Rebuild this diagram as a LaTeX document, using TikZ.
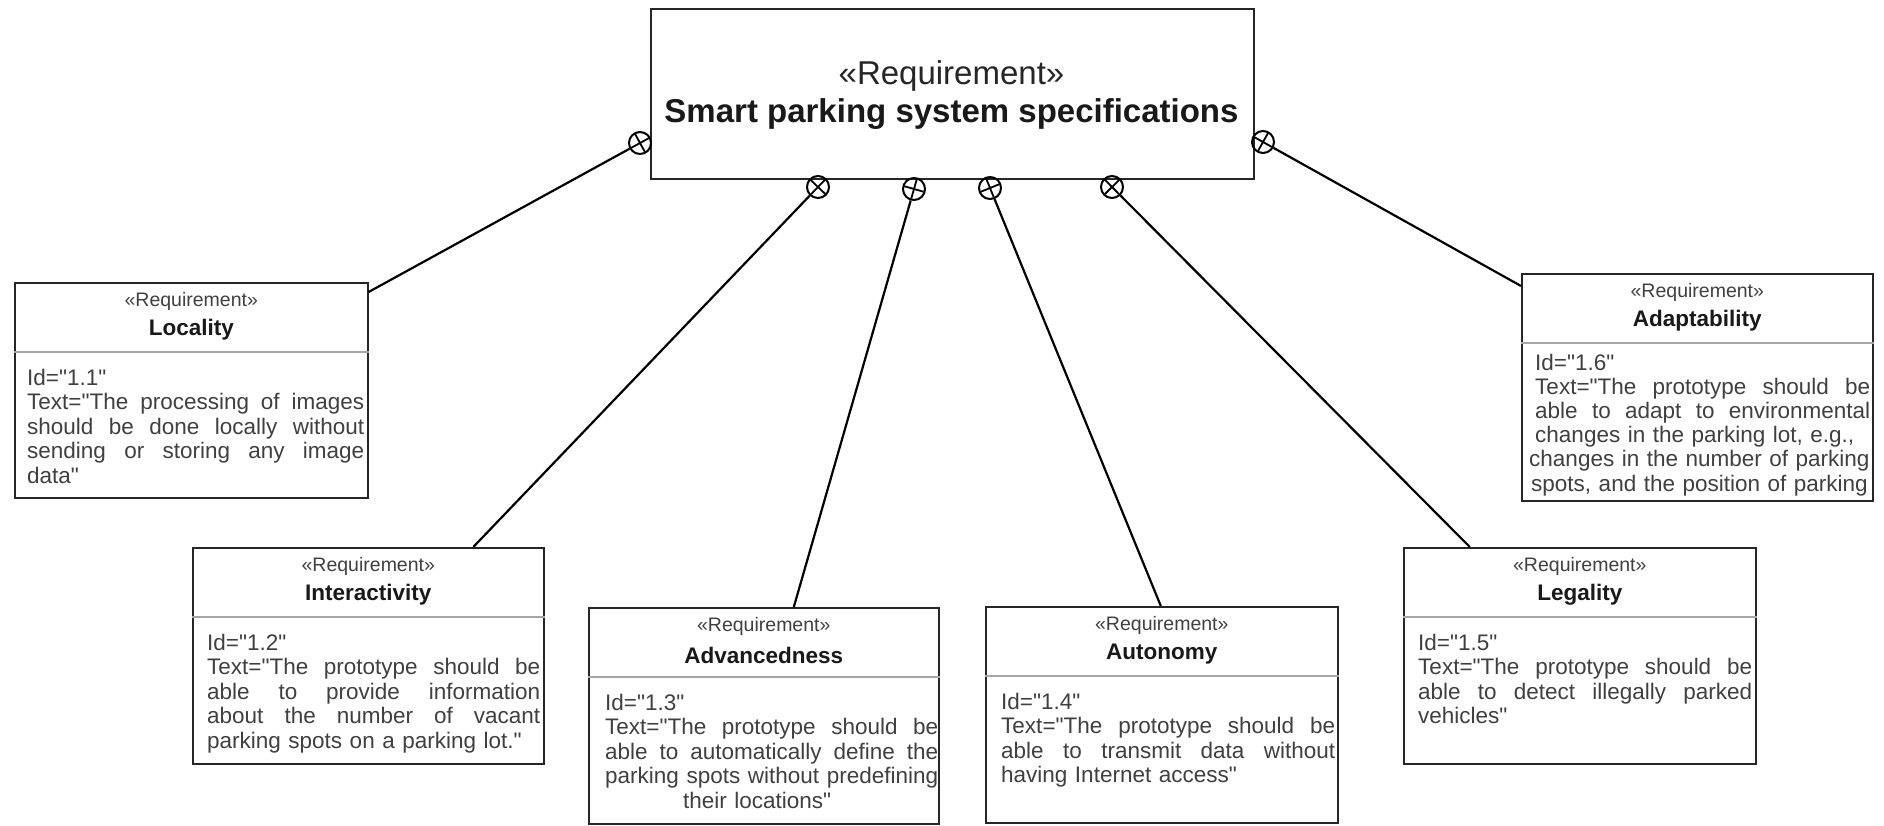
\documentclass[tikz,border=0pt]{standalone}
\usepackage{fontspec}
\setmainfont{Liberation Sans}[Ligatures=TeXOff]
\usetikzlibrary{calc}

\tikzset{
  req/.style={draw=black!85, line width=1.6pt, rectangle, anchor=north west, inner sep=0pt},
  stereo/.style={font=\fontsize{19.5pt}{22pt}\selectfont, text=black!75, inner sep=0pt},
  rname/.style={font=\fontsize{22.5pt}{25pt}\selectfont\bfseries, text=black!90, inner sep=0pt},
  divider/.style={draw=black!35, line width=1.6pt},
  body/.style={font=\fontsize{22.5pt}{24.5pt}\selectfont, text=black!75, inner sep=0pt, anchor=north west, align=left},
  port/.style={circle, draw=black, line width=2pt, minimum size=22pt, inner sep=0pt},
  link/.style={draw=black, line width=2.2pt},
  portx/.style={draw=black, line width=1.8pt},
}

% header of a requirement box: stereotype, name and compartment line
\newcommand\reqhead[2]{%
  \node[stereo] (#1-st) at ([yshift=-19.5pt]#1.north) {«Requirement»};
  \node[rname] (#1-nm) at ([yshift=-48pt]#1.north) {#2};
  \draw[divider] ([yshift=-70pt]#1.north west) -- ([yshift=-70pt]#1.north east);
}
% containment port: circle with a cross aligned to the connector
\newcommand\portcross[2]{%
  \draw[portx] ($(#1)!10pt!(#2)$) -- ($(#1)!-10pt!(#2)$)
               ($(#1)!10pt!90:(#2)$) -- ($(#1)!-10pt!90:(#2)$);
}
% a justified line of the given width
\newcommand\jl[2]{\leavevmode\hbox to #1pt{\spaceskip=0.278em plus 1fil\relax #2}}

\begin{document}
\begin{tikzpicture}[x=1pt, y=-1pt]
  \useasboundingbox (0,0) rectangle (1884,825);
  \fill[white] (0,0) rectangle (1884,825);

  % parent requirement
  \node[req, minimum width=603pt, minimum height=170pt] (main) at (650,8) {};
  \node[font=\fontsize{33pt}{36pt}\selectfont, text=black!85, inner sep=0pt] (main-st) at (951.5,76) {«Requirement»};
  \node[font=\fontsize{33pt}{36pt}\selectfont\bfseries, text=black!90, inner sep=0pt] (main-nm) at (951.5,114) {Smart parking system specifications};

  % child requirements
  \node[req, minimum width=353pt, minimum height=215pt] (loc) at (14,282) {};
  \reqhead{loc}{Locality}
  \node[body, text width=340pt] (loc-bd) at (27,368) {\strut Id="1.1"\\
    \jl{337}{Text="The processing of images}\\
    \jl{337}{should be done locally without}\\
    \jl{337}{sending or storing any image}\\
    data"};

  \node[req, minimum width=351pt, minimum height=216pt] (int) at (192,547) {};
  \reqhead{int}{Interactivity}
  \node[body, text width=335pt] (int-bd) at (207,633) {\strut Id="1.2"\\
    \jl{333}{Text="The prototype should be}\\
    \jl{333}{able to provide information}\\
    \jl{333}{about the number of vacant}\\
    parking spots on a parking lot."};

  \node[req, minimum width=350pt, minimum height=216pt] (adv) at (588,607) {};
  \reqhead{adv}{Advancedness}
  \node[body, text width=335pt] (adv-bd) at (605,693) {\strut Id="1.3"\\
    \jl{333}{Text="The prototype should be}\\
    \jl{333}{able to automatically define the}\\
    \jl{333}{parking spots without predefining}\\
    \hspace*{78pt}their locations"};

  \node[req, minimum width=352pt, minimum height=216pt] (aut) at (985,606) {};
  \reqhead{aut}{Autonomy}
  \node[body, text width=336pt] (aut-bd) at (1001,692) {\strut Id="1.4"\\
    \jl{334}{Text="The prototype should be}\\
    \jl{334}{able to transmit data without}\\
    having Internet access"};

  \node[req, minimum width=352pt, minimum height=216pt] (leg) at (1403,547) {};
  \reqhead{leg}{Legality}
  \node[body, text width=336pt] (leg-bd) at (1418,633) {\strut Id="1.5"\\
    \jl{334}{Text="The prototype should be}\\
    \jl{334}{able to detect illegally parked}\\
    vehicles"};

  \node[req, minimum width=351pt, minimum height=227pt] (ada) at (1521,273) {};
  \reqhead{ada}{Adaptability}
  \node[body, text width=337pt, font=\fontsize{22.5pt}{24.2pt}\selectfont] (ada-bd) at (1535,353) {\strut Id="1.6"\\
    \jl{335}{Text="The prototype should be}\\
    \jl{335}{able to adapt to environmental}\\
    changes in the parking lot, e.g.,\\
    \hspace*{-6pt}changes in the number of parking\\
    \hspace*{-4pt}spots, and the position of parking};

  % connector ends on the child boxes
  \coordinate (locA) at ([yshift=-10pt]loc.north east);
  \coordinate (intA) at ([xshift=105pt]int.north);
  \coordinate (advA) at ([xshift=30pt]adv.north);
  \coordinate (autA) at ([xshift=-1pt]aut.north);
  \coordinate (legA) at ([xshift=-110pt]leg.north);
  \coordinate (adaA) at ([yshift=-13pt]ada.north west);

  % containment ports on the parent
  \node[port] (p1) at (640,143) {};
  \node[port] (p2) at (818,187) {};
  \node[port] (p3) at (914,189) {};
  \node[port] (p4) at (990,188) {};
  \node[port] (p5) at (1112,187) {};
  \node[port] (p6) at (1263,142) {};

  \draw[link] (p1) -- (locA);
  \draw[link] (p2) -- (intA);
  \draw[link] (p3) -- (advA);
  \draw[link] (p4) -- (autA);
  \draw[link] (p5) -- (legA);
  \draw[link] (p6) -- (adaA);

  \portcross{p1}{locA}
  \portcross{p2}{intA}
  \portcross{p3}{advA}
  \portcross{p4}{autA}
  \portcross{p5}{legA}
  \portcross{p6}{adaA}
\end{tikzpicture}
\end{document}
